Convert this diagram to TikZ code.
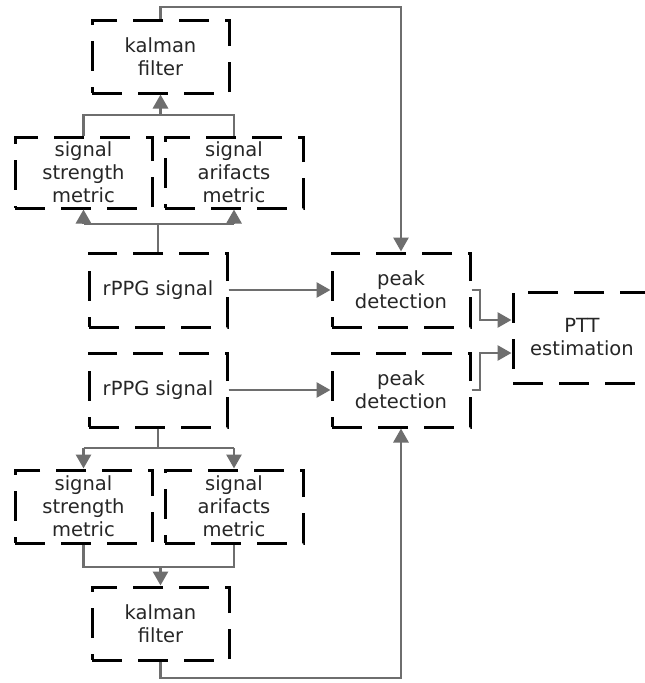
\documentclass[tikz,border=0pt]{standalone}
\usepackage{fontspec}
\setmainfont{DejaVu Sans}
\usetikzlibrary{arrows.meta}
\definecolor{conncol}{HTML}{6E6E6E}
\definecolor{txtcol}{HTML}{262626}
\begin{document}
\begin{tikzpicture}[x=1pt,y=-1pt,
  box/.style={draw=black,line width=3pt,dash pattern=on 30pt off 16pt,
    minimum width=137pt,minimum height=73pt,inner sep=0pt,align=center,
    text=txtcol,font=\fontsize{19.5}{23}\selectfont},
  conn/.style={draw=conncol,line width=2.8pt},
  arr/.style={conn,-{Triangle[length=14pt,width=15pt]}}]
\clip (0,0) rectangle (645,683);
\fill[white] (0,0) rectangle (645,683);
% nodes
\node[box] (kal1) at (160.5,56.5) {kalman\\filter};
\node[box,minimum height=71pt] (ssm1) at (83.5,172.5) {signal\\strength\\metric};
\node[box,minimum height=71pt,minimum width=138pt] (sam1) at (234,172.5) {signal\\arifacts\\metric};
\node[box,minimum width=138pt,minimum height=74pt] (r1) at (158,290) {rPPG signal};
\node[box,minimum width=138pt,minimum height=74pt] (r2) at (158,390) {rPPG signal};
\node[box] (ssm2) at (83.5,506.5) {signal\\strength\\metric};
\node[box,minimum width=138pt] (sam2) at (234,506.5) {signal\\arifacts\\metric};
\node[box] (kal2) at (160.5,623.5) {kalman\\filter};
\node[box,minimum width=138pt,minimum height=74pt] (p1) at (401,290) {peak\\detection};
\node[box,minimum width=138pt,minimum height=74pt] (p2) at (401,390) {peak\\detection};
\node[box,minimum width=138pt,minimum height=91pt] (ptt) at (582,337.5) {PTT\\estimation};
% helper coordinates
\coordinate (ytop) at (0,7);
\coordinate (yk1) at (0,115);
\coordinate (yj1) at (0,224);
\coordinate (yj2) at (0,448);
\coordinate (yk2) at (0,567);
\coordinate (ybot) at (0,678);
\coordinate (xm) at (480,0);
\coordinate (ya) at (0,320);
\coordinate (yb) at (0,353);
% top branch
\draw[arr] (kal1.north) |- (p1.north |- ytop) -- (p1.north);
\draw[conn] (ssm1.north) |- (sam1.north |- yk1) -- (sam1.north);
\draw[arr] (kal1.south |- yk1) -- (kal1.south);
\draw[conn] (r1.north) -- (r1.north |- yj1);
\draw[conn] (ssm1.south |- yj1) -- (sam1.south |- yj1);
\draw[arr] (ssm1.south |- yj1) -- (ssm1.south);
\draw[arr] (sam1.south |- yj1) -- (sam1.south);
\draw[arr] (r1.east) -- (p1.west);
% bottom branch
\draw[arr] (r2.east) -- (p2.west);
\draw[conn] (r2.south) -- (r2.south |- yj2);
\draw[conn] (ssm2.north |- yj2) -- (sam2.north |- yj2);
\draw[arr] (ssm2.north |- yj2) -- (ssm2.north);
\draw[arr] (sam2.north |- yj2) -- (sam2.north);
\draw[conn] (ssm2.south) |- (sam2.south |- yk2) -- (sam2.south);
\draw[arr] (kal2.north |- yk2) -- (kal2.north);
\draw[arr] (kal2.south) |- (p2.south |- ybot) -- (p2.south);
% to PTT
\draw[arr] (p1.east) -- (xm |- p1.east) -- (xm |- ya) -- (ptt.west |- ya);
\draw[arr] (p2.east) -- (xm |- p2.east) -- (xm |- yb) -- (ptt.west |- yb);
\end{tikzpicture}
\end{document}
